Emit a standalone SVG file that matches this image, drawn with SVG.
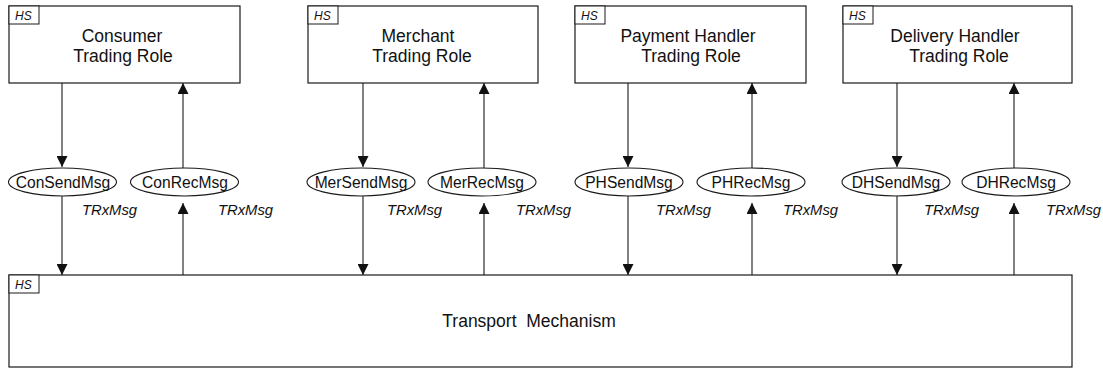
<svg xmlns="http://www.w3.org/2000/svg" width="1103" height="369" viewBox="0 0 1103 369">
  <style>
    .box { fill: #ffffff; stroke: #1a1a1a; stroke-width: 1.2; }
    .tag { fill: #ffffff; stroke: #1a1a1a; stroke-width: 1; }
    .tagtxt { font-family: "Liberation Sans", Arial, sans-serif; font-size: 12px; font-style: italic; fill: #111; }
    .title { font-family: "Liberation Sans", Arial, sans-serif; font-size: 17.5px; fill: #111; text-anchor: middle; white-space: pre; }
    .oval { fill: #ffffff; stroke: #1a1a1a; stroke-width: 1.1; }
    .otxt { font-family: "Liberation Sans", Arial, sans-serif; font-size: 15.6px; fill: #111; text-anchor: middle; }
    .lbl { font-family: "Liberation Sans", Arial, sans-serif; font-size: 14.8px; font-style: italic; fill: #111; }
    .wire { stroke: #1a1a1a; stroke-width: 1.1; fill: none; }
    .arr { marker-end: url(#head); }
  </style>
  <defs>
    <marker id="head" markerUnits="userSpaceOnUse" markerWidth="11" markerHeight="11" viewBox="0 0 10 10" refX="10" refY="5" orient="auto">
      <path d="M0,0 L10,5 L0,10 z" fill="#111"/>
    </marker>
  </defs>

  <!-- connectors -->
  <g id="connectors">
    <!-- consumer -->
    <line class="wire arr" x1="62" y1="83" x2="62" y2="167"/>
    <line class="wire arr" x1="62" y1="196" x2="62" y2="275"/>
    <line class="wire arr" x1="183" y1="275" x2="183" y2="203"/>
    <line class="wire arr" x1="183" y1="168" x2="183" y2="83"/>
    <!-- merchant -->
    <line class="wire arr" x1="363" y1="83" x2="363" y2="167"/>
    <line class="wire arr" x1="363" y1="196" x2="363" y2="275"/>
    <line class="wire arr" x1="484" y1="275" x2="484" y2="203"/>
    <line class="wire arr" x1="484" y1="168" x2="484" y2="83"/>
    <!-- payment handler -->
    <line class="wire arr" x1="628" y1="83" x2="628" y2="167"/>
    <line class="wire arr" x1="628" y1="196" x2="628" y2="275"/>
    <line class="wire arr" x1="752" y1="275" x2="752" y2="203"/>
    <line class="wire arr" x1="752" y1="168" x2="752" y2="83"/>
    <!-- delivery handler -->
    <line class="wire arr" x1="897" y1="83" x2="897" y2="167"/>
    <line class="wire arr" x1="897" y1="196" x2="897" y2="275"/>
    <line class="wire arr" x1="1014" y1="275" x2="1014" y2="203"/>
    <line class="wire arr" x1="1014" y1="168" x2="1014" y2="83"/>

    <text class="lbl" x="82" y="215">TRxMsg</text>
    <text class="lbl" x="218" y="215">TRxMsg</text>
    <text class="lbl" x="387" y="215">TRxMsg</text>
    <text class="lbl" x="516" y="215">TRxMsg</text>
    <text class="lbl" x="656" y="215">TRxMsg</text>
    <text class="lbl" x="783" y="215">TRxMsg</text>
    <text class="lbl" x="924" y="215">TRxMsg</text>
    <text class="lbl" x="1046" y="215">TRxMsg</text>
  </g>

  <!-- trading roles -->
  <g id="consumer">
    <rect class="box" x="9" y="6" width="231" height="77"/>
    <rect class="tag" x="9" y="6" width="30" height="18"/>
    <text class="tagtxt" x="15" y="20">HS</text>
    <text class="title" x="122" y="42">Consumer</text>
    <text class="title" x="123" y="62">Trading Role</text>
  </g>
  <g id="merchant">
    <rect class="box" x="308" y="6" width="230" height="77"/>
    <rect class="tag" x="308" y="6" width="30" height="18"/>
    <text class="tagtxt" x="314" y="20">HS</text>
    <text class="title" x="418" y="42">Merchant</text>
    <text class="title" x="422" y="62">Trading Role</text>
  </g>
  <g id="payment-handler">
    <rect class="box" x="575" y="6" width="231" height="77"/>
    <rect class="tag" x="575" y="6" width="30" height="18"/>
    <text class="tagtxt" x="581" y="20">HS</text>
    <text class="title" x="688" y="42">Payment Handler</text>
    <text class="title" x="691" y="62">Trading Role</text>
  </g>
  <g id="delivery-handler">
    <rect class="box" x="843" y="6" width="229" height="77"/>
    <rect class="tag" x="843" y="6" width="30" height="18"/>
    <text class="tagtxt" x="849" y="20">HS</text>
    <text class="title" x="955" y="42">Delivery Handler</text>
    <text class="title" x="959" y="62">Trading Role</text>
  </g>

  <!-- message operations -->
  <g id="con-send"><ellipse class="oval" cx="62.5" cy="182" rx="54" ry="14"/><text class="otxt" x="63" y="188">ConSendMsg</text></g>
  <g id="con-rec"><ellipse class="oval" cx="184.5" cy="182" rx="54" ry="14"/><text class="otxt" x="185" y="188">ConRecMsg</text></g>
  <g id="mer-send"><ellipse class="oval" cx="361" cy="182" rx="54" ry="14"/><text class="otxt" x="361" y="188">MerSendMsg</text></g>
  <g id="mer-rec"><ellipse class="oval" cx="482" cy="182" rx="54" ry="14"/><text class="otxt" x="482" y="188">MerRecMsg</text></g>
  <g id="ph-send"><ellipse class="oval" cx="629" cy="182" rx="54" ry="14"/><text class="otxt" x="629" y="188">PHSendMsg</text></g>
  <g id="ph-rec"><ellipse class="oval" cx="751" cy="182" rx="54" ry="14"/><text class="otxt" x="751" y="188">PHRecMsg</text></g>
  <g id="dh-send"><ellipse class="oval" cx="896" cy="182" rx="54" ry="14"/><text class="otxt" x="896" y="188">DHSendMsg</text></g>
  <g id="dh-rec"><ellipse class="oval" cx="1016" cy="182" rx="54" ry="14"/><text class="otxt" x="1016" y="188">DHRecMsg</text></g>

  <!-- transport layer -->
  <g id="transport">
    <rect class="box" x="9" y="275" width="1063" height="92" fill-opacity="0"/>
    <rect class="tag" x="9" y="275" width="30" height="18"/>
    <text class="tagtxt" x="15" y="289">HS</text>
    <text class="title" x="529" y="327" xml:space="preserve">Transport  Mechanism</text>
  </g>
</svg>
